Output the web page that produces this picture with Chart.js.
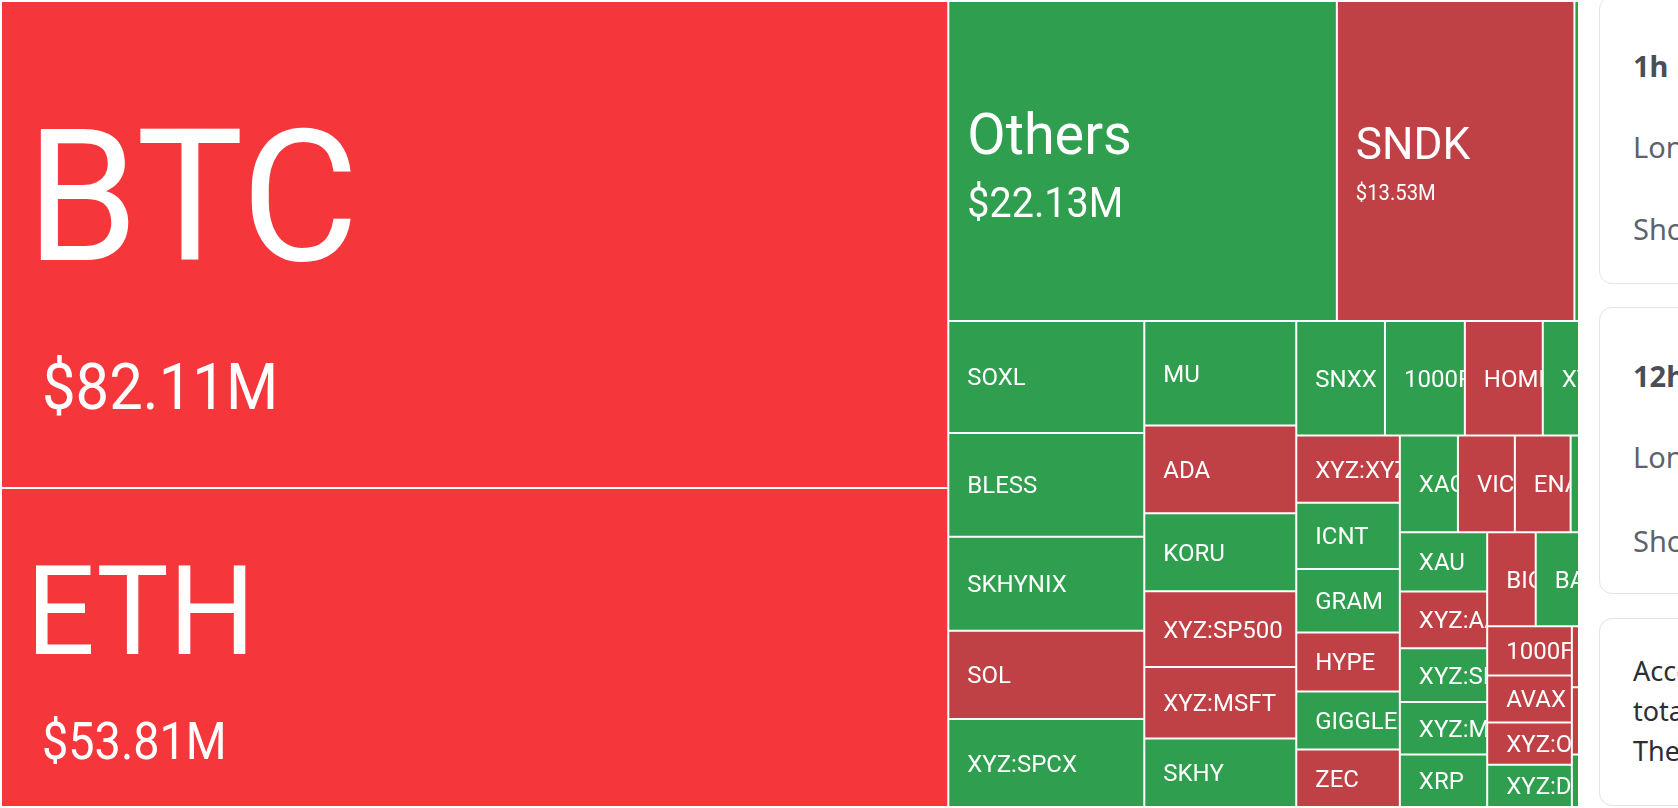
<!DOCTYPE html>
<html>
<head>
<meta charset="utf-8">
<title>Liquidations by coin</title>
<script src="https://cdn.jsdelivr.net/npm/chart.js@4.4.1/dist/chart.umd.min.js"></script>
<style>
    html, body { margin:0; padding:0; background:#fff; width:1678px; height:808px; overflow:hidden; }
    .dd-map-clip { position:absolute; left:0; top:0; width:1578px; height:808px; overflow:hidden; }
    .dd-map-wrap { position:relative; width:1682px; height:808px; }
    .dd-card { position:absolute; left:1599px; width:320px; box-sizing:border-box;
               border:1.5px solid #e3e4e6; border-radius:13px; background:#fff; }
    .dd-line { position:absolute; left:1633px; white-space:nowrap; font-family:"Noto Sans", sans-serif; }
    .dd-head { font-size:29px; line-height:29px; font-weight:700; color:#4a4f57; }
    .dd-row  { font-size:29px; line-height:29px; color:#5d636c; }
    .dd-text { font-size:27px; line-height:27px; color:#2b2e33; }
</style>
</head>
<body>
<div class="dd-map-clip"><div class="dd-map-wrap"><canvas id="ddLiqMap"></canvas></div></div>

<div class="dd-card" style="top:-4px;height:288px"></div>
<div class="dd-card" style="top:307px;height:287px"></div>
<div class="dd-card" style="top:618px;height:188px"></div>

<div class="dd-line dd-head" style="top:51px">1h Rekt</div>
<div class="dd-line dd-row"  style="top:132px">Long</div>
<div class="dd-line dd-row"  style="top:214px">Short</div>
<div class="dd-line dd-head" style="top:361px">12h Rekt</div>
<div class="dd-line dd-row"  style="top:442px">Long</div>
<div class="dd-line dd-row"  style="top:526px">Short</div>
<div class="dd-line dd-text" style="top:657px">According to the data, in the past 24 hours,</div>
<div class="dd-line dd-text" style="top:697px">total liquidations came in across the market.</div>
<div class="dd-line dd-text" style="top:737px">The largest single liquidation order happened</div>

<script>
// liquidated value per coin, $M (cells past the right edge are clipped in the source too)
var coins = [
    'BTC', 'ETH', 'Others', 'SNDK', 'XYZ:NVDA',
    'SOXL', 'BLESS', 'SKHYNIX', 'SOL', 'XYZ:SPCX',
    'MU', 'ADA', 'KORU', 'XYZ:SP500', 'XYZ:MSFT', 'SKHY',
    'SNXX', '1000PEPE', 'HOME', 'XYZ:TSLA', 'SUI',
    'XYZ:XYZ100', 'ICNT', 'GRAM', 'HYPE', 'GIGGLE', 'ZEC',
    'XAG', 'VIC', 'ENA', 'XYZ:GOLD', 'DOGE',
    'XAU', 'XYZ:AAPL', 'XYZ:SILVER', 'XYZ:META', 'XRP',
    'BIO', 'BABY', 'LINK', 'PUMP',
    '1000FLOKI', 'AVAX', 'XYZ:ORCL', 'XYZ:DELL',
    'FARTCOIN', 'WLD', 'AAVE', 'LTC', 'TRUMP', 'BNB', 'ASTER', 'TAO'
];
var liqUsdM = [
    82.11, 53.81, 22.13, 13.53, 6.07,
    3.91, 3.62, 3.28, 3.08, 3.07,
    2.83, 2.37, 2.11, 2.05, 1.94, 1.85,
    1.81, 1.63, 1.59, 1.42, 1.40,
    1.24, 1.22, 1.17, 1.09, 1.07, 1.06,
    1.00, 0.98, 0.96, 0.955, 0.945,
    0.92, 0.885, 0.835, 0.818, 0.815,
    0.813, 0.812, 0.811, 0.810,
    0.740, 0.708, 0.638, 0.637,
    0.592, 0.591, 0.438, 0.436, 0.435, 0.428, 0.306, 0.285
];
// colour class: 'drop' = deep red, 'down' = red, 'up' = green
var trend = [
    'drop', 'drop', 'up', 'down', 'up',
    'up', 'up', 'up', 'down', 'up',
    'up', 'down', 'up', 'down', 'down', 'up',
    'up', 'up', 'down', 'up', 'down',
    'down', 'up', 'up', 'down', 'up', 'down',
    'up', 'down', 'down', 'up', 'down',
    'up', 'down', 'up', 'up', 'up',
    'down', 'up', 'down', 'up',
    'down', 'down', 'down', 'up',
    'down', 'up', 'down', 'up', 'down', 'up', 'down', 'up'
];

var trendColors = { drop:'#F5373B', down:'#BF4045', up:'#2F9E4F' };
var MAP_W = 1680, MAP_H = 806, GAP = 1;
var GOLDEN = 0.5 * (1 + Math.sqrt(5));

// squarified layout, rows compared against the golden ratio
function worst(row, rowArea, fixed) {
    var mx = 0, mn = Infinity;
    row.forEach(function (c) { if (c.area > mx) mx = c.area; if (c.area < mn) mn = c.area; });
    var sq = rowArea * rowArea, f = fixed * fixed * GOLDEN;
    return sq ? Math.max(f * mx / sq, sq / (f * mn)) : Infinity;
}

function placeRow(row, rowArea, fixed, rect, flush) {
    var horiz = fixed === rect.w;
    var other = fixed ? rowArea / fixed : 0;
    var room = horiz ? rect.h : rect.w;
    if (flush || other > room) other = room;
    var last = horiz ? rect.x : rect.y;
    var end = horiz ? rect.x + rect.w : rect.y + rect.h;
    row.forEach(function (c, i) {
        var step = other ? c.area / other : 0;
        var remain = end - last;
        var len = (i === row.length - 1 || remain < step) ? remain : step;
        if (horiz) { c.x = last; c.y = rect.y; c.w = len; c.h = other; }
        else       { c.x = rect.x; c.y = last; c.w = other; c.h = len; }
        last += len;
    });
    if (horiz) { rect.y += other; rect.h -= other; }
    else       { rect.x += other; rect.w -= other; }
}

function squarify(values, w, h) {
    var total = values.reduce(function (a, b) { return a + b; }, 0);
    var cells = values.map(function (v, i) { return { i:i, area: v / total * w * h }; });
    cells.sort(function (a, b) { return b.area - a.area; });
    var rect = { x:0, y:0, w:w, h:h };
    var fixed = Math.min(w, h), best = Infinity, row = [], rowArea = 0;
    for (var k = 0; k < cells.length;) {
        row.push(cells[k]); rowArea += cells[k].area;
        var score = worst(row, rowArea, fixed);
        if (score <= best) { k++; best = score; }
        else {
            rowArea -= row.pop().area;
            placeRow(row, rowArea, fixed, rect, false);
            fixed = Math.min(rect.w, rect.h);
            row = []; rowArea = 0; best = Infinity;
        }
    }
    if (row.length) placeRow(row, rowArea, fixed, rect, true);
    var out = [];
    cells.forEach(function (c) { out[c.i] = c; });
    return out;
}

function fillNarrow(ctx, text, x, y, size, squeeze) {
    ctx.save();
    ctx.translate(x, y);
    ctx.scale(squeeze, 1);
    ctx.font = size + 'px Roboto';
    ctx.fillText(text, 0, 0);
    ctx.restore();
}

function drawCellLabel(ctx, el, name, value) {
    var left = el.x - el.width / 2, top = el.y, w = el.width, h = el.base - el.y;
    var cap = 0.711;
    ctx.save();
    ctx.beginPath();
    ctx.rect(left, top, w, h);
    ctx.clip();
    ctx.fillStyle = '#fff';
    ctx.textAlign = 'left';
    ctx.textBaseline = 'alphabetic';
    if (value < 10) {
        fillNarrow(ctx, name, left + 18, top + h / 2 + 24 * cap / 2, 24, 1);
    } else {
        // big cells carry the amount on a second line
        var nameSize = Math.max(45, 10 + 2.12 * value);
        var valSize = w > 300 ? 10.65 + 0.0843 * h + 0.0143 * w : 22;
        var gap = 0.56 * nameSize;
        var block = nameSize * cap + gap + valSize * cap;
        var mid = top + h / 2 + 0.16 * nameSize - 5;
        var nameBase = mid - block / 2 + nameSize * cap;
        var valBase = nameBase + gap + valSize * cap;
        fillNarrow(ctx, name, left + (w > 600 ? 24 : 18), nameBase, nameSize, 0.98);
        fillNarrow(ctx, '$' + value.toFixed(2) + 'M', left + (w > 600 ? 40 : 18), valBase, valSize, 0.92);
    }
    ctx.restore();
}

class TreemapLite extends Chart.DatasetController {
    update(mode) {
        var meta = this._cachedMeta;
        this.updateElements(meta.data, 0, meta.data.length, mode);
    }
    updateElements(rects, start, count, mode) {
        var meta = this._cachedMeta, xs = meta.xScale, ys = meta.yScale;
        var cells = squarify(this.getDataset().data, MAP_W, MAP_H);
        for (var i = start; i < start + count; i++) {
            var c = cells[i];
            var left = xs.getPixelForValue(c.x) + GAP, right = xs.getPixelForValue(c.x + c.w) - GAP;
            var top = ys.getPixelForValue(c.y) + GAP, bottom = ys.getPixelForValue(c.y + c.h) - GAP;
            this.updateElement(rects[i], i, {
                x: (left + right) / 2, y: top, base: bottom,
                width: right - left, height: bottom - top,
                horizontal: false, borderSkipped: {}, inflateAmount: 0,
                options: this.resolveDataElementOptions(i, mode)
            }, mode);
        }
    }
    draw() {
        super.draw();
        var ctx = this._ctx, data = this.getDataset().data, labels = this.chart.data.labels;
        this._cachedMeta.data.forEach(function (el, i) { drawCellLabel(ctx, el, labels[i], data[i]); });
    }
}
TreemapLite.id = 'treemapLite';
TreemapLite.defaults = { datasetElementType: false, dataElementType: 'bar' };
Chart.register(TreemapLite);

document.addEventListener('DOMContentLoaded', function () {
    var mapCtx = document.getElementById('ddLiqMap');
    new Chart(mapCtx, {
        type: 'treemapLite',
        data: {
            labels: coins,
            datasets: [{
                data: liqUsdM,
                backgroundColor: trend.map(function (t) { return trendColors[t]; }),
                borderWidth: 0
            }]
        },
        options: {
            responsive: true, maintainAspectRatio: false, animation: false, events: [],
            layout: { padding: 0 },
            plugins: { legend: { display: false }, tooltip: { enabled: false } },
            scales: {
                x: { type: 'linear', display: false, min: -1, max: MAP_W + 1 },
                y: { type: 'linear', display: false, min: -1, max: MAP_H + 1, reverse: true }
            }
        }
    });
});
</script>
</body>
</html>
